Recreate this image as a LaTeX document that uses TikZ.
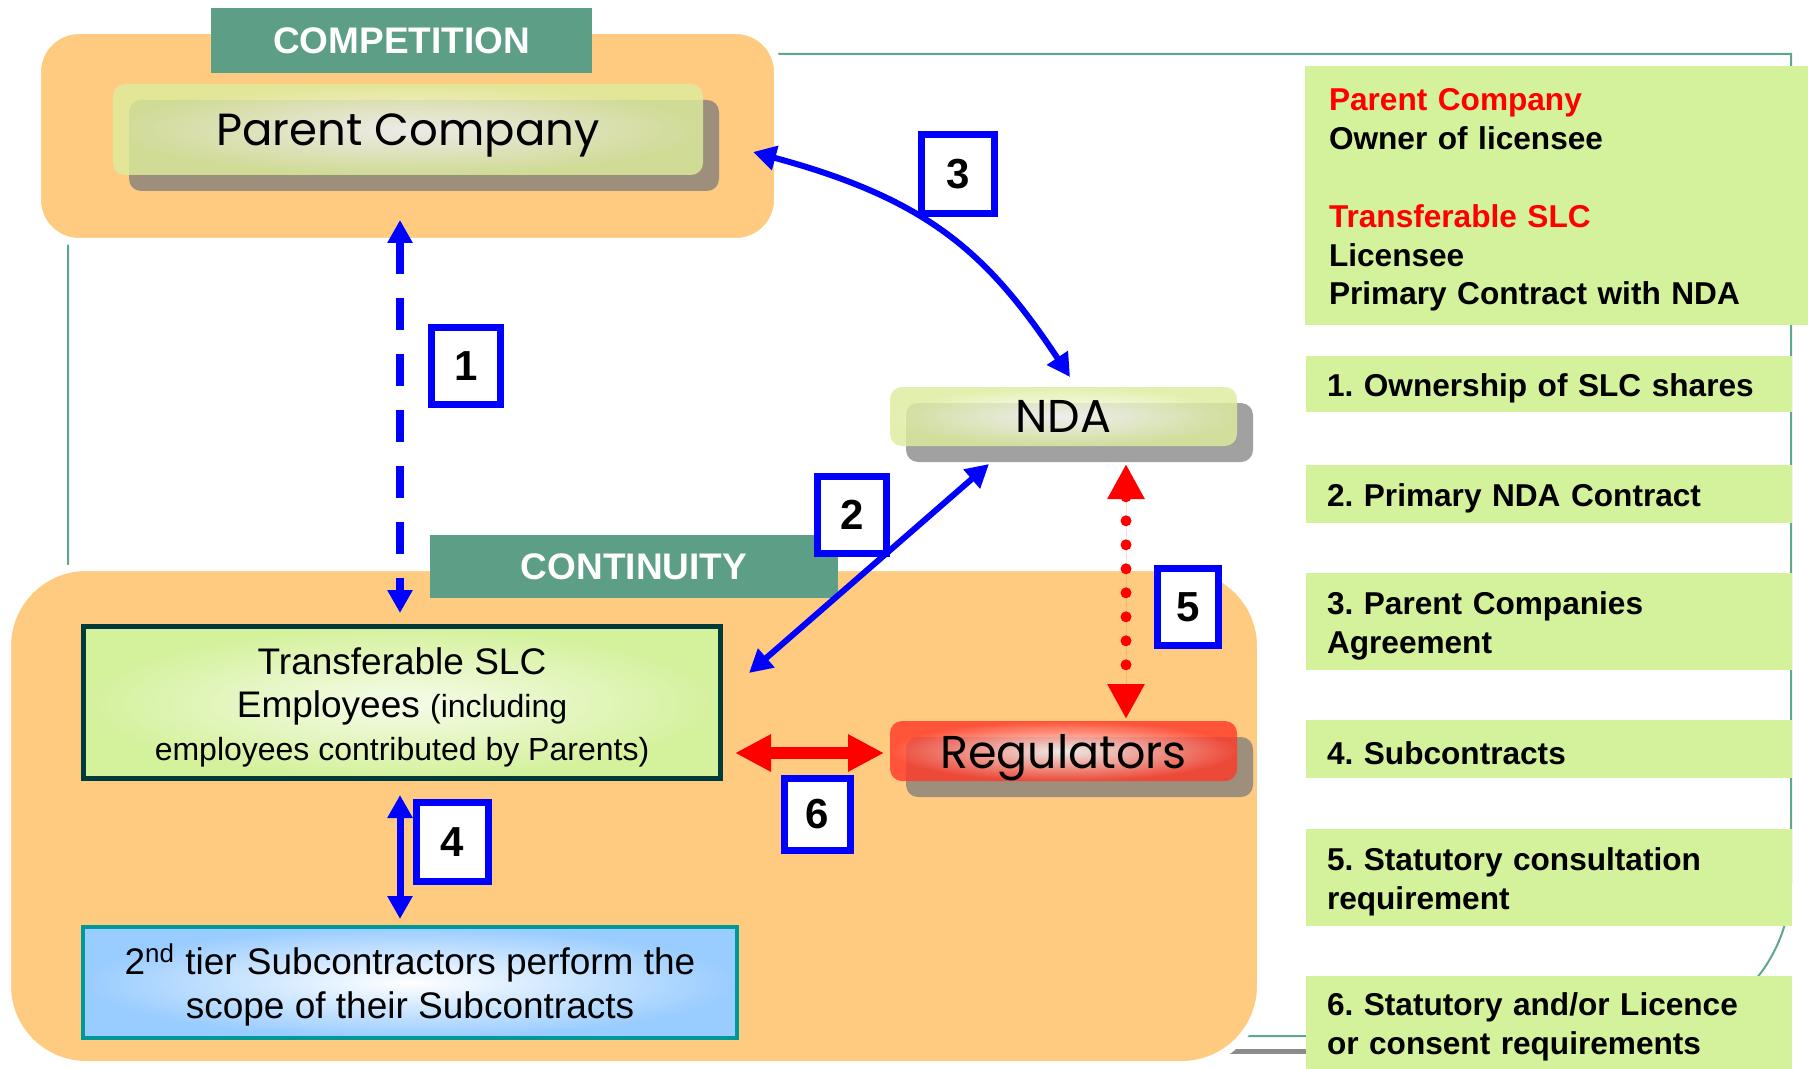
\documentclass[tikz,border=0pt]{standalone}
\usepackage{fontspec}
\setmainfont{Liberation Sans}
\newfontfamily\glassfont{Poppins}
\usetikzlibrary{arrows.meta,calc}
\frenchspacing
\definecolor{orangebg}{HTML}{FFCB80}
\definecolor{bannergreen}{HTML}{5C9E86}
\definecolor{framegreen}{HTML}{5FA887}
\definecolor{lgreen}{HTML}{D4F19C}
\definecolor{glassg}{HTML}{DCEC9C}
\definecolor{glassr}{HTML}{FF3A2A}
\definecolor{shadoworange}{HTML}{9D8F7B}
\definecolor{shadowwhite}{HTML}{A1A1A1}
\definecolor{slcinner}{HTML}{F6FCEA}
\definecolor{slcborder}{HTML}{003A3A}
\definecolor{subborder}{HTML}{009999}
\definecolor{subblue}{HTML}{99CCFF}
\definecolor{grayline}{HTML}{8C8C8C}
\begin{document}
\begin{tikzpicture}[x=0.5pt,y=-0.5pt,
  frameline/.style={draw=framegreen, line width=1pt},
  orangebox/.style={draw=white, line width=4pt, fill=orangebg, inner sep=0pt},
  banner/.style={fill=bannergreen, text=white, inner sep=0pt, outer sep=0pt,
    font=\bfseries\fontsize{18.5}{22}\selectfont},
  shadowbox/.style={rounded corners=6pt, inner sep=0pt, outer sep=0pt,
    minimum width=173.5pt, minimum height=29.5pt},
  glassbox/.style={rounded corners=6pt, inner sep=0pt, outer sep=0pt,
    fill opacity=0.82, text opacity=1, text=black, text depth=0pt,
    minimum width=173.5pt, minimum height=29.5pt,
    font=\glassfont\fontsize{23}{26}\selectfont},
  glassgreen/.style={glassbox, inner color=white, outer color=glassg},
  glassred/.style={glassbox, inner color=white, outer color=glassr},
  slcbox/.style={draw=slcborder, line width=2.5pt, inner color=slcinner, outer color=lgreen,
    minimum width=318.5pt, minimum height=76pt, align=center, inner sep=0pt,
    font=\fontsize{18.5}{21.5}\selectfont},
  subbox/.style={draw=subborder, line width=2pt, inner color=white, outer color=subblue,
    minimum width=327pt, minimum height=55.5pt, align=center, inner sep=0pt,
    font=\fontsize{18.5}{22}\selectfont},
  legbox/.style={fill=lgreen, anchor=north west, align=left, inner ysep=0pt, outer sep=0pt,
    inner xsep=10.5pt, minimum width=243pt, text width=222pt,
    font=\bfseries\fontsize{15.8}{19.4}\selectfont,
    execute at begin node=\rule{0pt}{15.6pt}},
  numbox/.style={draw=blue, line width=3.5pt, fill=white, inner sep=0pt,
    minimum width=34.5pt, minimum height=38.5pt,
    font=\bfseries\fontsize{21}{24}\selectfont},
  bluearrow/.style={draw=blue, line width=3pt,
    arrows={Triangle[length=11.5pt,width=12pt]-Triangle[length=11.5pt,width=12pt]}},
  redarrow/.style={draw=red, fill=red,
    arrows={Triangle[length=17.5pt,width=17.5pt]-Triangle[length=17.5pt,width=17.5pt]}}
]
\useasboundingbox (0,0) rectangle (1808,1069);

% thin green frame
\draw[frameline] (68,1036) -- (68,54) -- (1791,54) -- (1791,881)
   arc[start angle=0, end angle=90, radius=155] -- cycle;
\draw[grayline, line width=2.5pt] (1230,1051) -- (1307,1051);

% orange areas
\node[orangebox, rounded corners=21pt, minimum width=370.5pt, minimum height=106pt] (comp) at (407.5,136) {};
\node[orangebox, rounded corners=39.5pt, minimum width=627pt, minimum height=249pt] (cont) at (634,816) {};

% banners
\node[banner, minimum width=190.5pt, minimum height=32.5pt] (compban) at (401.5,40.5) {COMPETITION};
\node[banner, minimum width=204pt, minimum height=31.5pt] (contban) at (634,566.5) {CONTINUITY};

% glass nodes with shadows
\node[shadowbox, fill=shadoworange, minimum width=295pt, minimum height=45.5pt] (pcs) at (424,145.5) {};
\node[glassgreen, minimum width=295pt, minimum height=45.5pt,
  font=\glassfont\fontsize{22.5}{26}\selectfont] (pc) at (408,129.5) {Parent Company};

\node[shadowbox, fill=shadowwhite] (ndas) at (1079.5,432.5) {};
\node[glassgreen] (nda) at (1063.5,416.5) {NDA};

\node[shadowbox, fill=shadoworange, minimum height=30pt] (regs) at (1079.5,767) {};
\node[glassred, minimum height=30pt] (reg) at (1063.5,751) {Regulators};

% main boxes
\node[slcbox] (slc) at (402,702.5) {\rule{0pt}{18.5pt}Transferable SLC\\
  Employees {\fontsize{16}{21.5}\selectfont (including}\\
  {\fontsize{16}{21.5}\selectfont employees contributed by Parents)}};
\node[subbox] (sub) at (410,982.5) {\rule{0pt}{18.2pt}2\textsuperscript{nd} tier Subcontractors perform the\\scope of their Subcontracts};

% legend
\node[legbox, minimum width=251.5pt, text width=227.5pt, inner xsep=12pt, minimum height=129.5pt] (legtop) at (1305,66)
  {\textcolor{red}{Parent Company}\\Owner of licensee\\[19.4pt]\textcolor{red}{Transferable SLC}\\Licensee\\Primary Contract with NDA};
\node[legbox, minimum height=28pt] (leg1) at (1306,356) {1. Ownership of SLC shares};
\node[legbox, minimum height=29pt] (leg2) at (1306,465) {2. Primary NDA Contract};
\node[legbox, minimum height=48.5pt] (leg3) at (1306,573) {3. Parent Companies\\Agreement};
\node[legbox, minimum height=29pt] (leg4) at (1306,720) {4. Subcontracts};
\node[legbox, minimum height=48.5pt] (leg5) at (1306,829) {5. Statutory consultation\\requirement};
\node[legbox, minimum height=46.5pt] (leg6) at (1306,976) {6. Statutory and/or Licence\\or consent requirements};

% number labels
\node[numbox] (n1) at (466,366) {1};
\node[numbox] (n2) at (852,515) {2};
\node[numbox, minimum width=36.5pt, minimum height=39.5pt] (n3) at (958,174) {3};
\node[numbox, minimum width=36pt, minimum height=39.5pt] (n4) at (452,842) {4};
\node[numbox, minimum width=30.5pt] (n5) at (1188,607) {5};
\node[numbox, minimum width=33pt, minimum height=36pt] (n6) at (817,814) {6};

% connectors
\draw[bluearrow, line width=4pt, dash pattern=on 16pt off 12pt]
  ($(pcs.south)+(-24,29)$) -- ($(slc.north)+(-2,-11)$);
\draw[bluearrow] ($(ndas.south west)+(83,2)$) -- ($(slc.north east)+(26,49)$);
\draw[bluearrow] ($(pcs.east)+(34,6.5)$) .. controls +(174,47) and +(-83,-125) .. ($(nda.north)+(6.5,-10)$);
\draw[bluearrow, line width=3.5pt] ($(slc.south)+(-2,14)$) -- ($(sub.north)+(-10,-6)$);
\draw[redarrow, line width=5.5pt, line cap=round, dash pattern=on 0pt off 12pt]
  ($(ndas.south)+(46.5,2)$) -- ($(reg.north)+(62.5,-2)$);
\draw[redarrow, line width=6pt,
  arrows={Triangle[length=18pt,width=17.5pt]-Triangle[length=18pt,width=17.5pt]}]
  ($(slc.east)+(12,50.5)$) -- ($(reg.west)+(-6,2)$);
\end{tikzpicture}
\end{document}
